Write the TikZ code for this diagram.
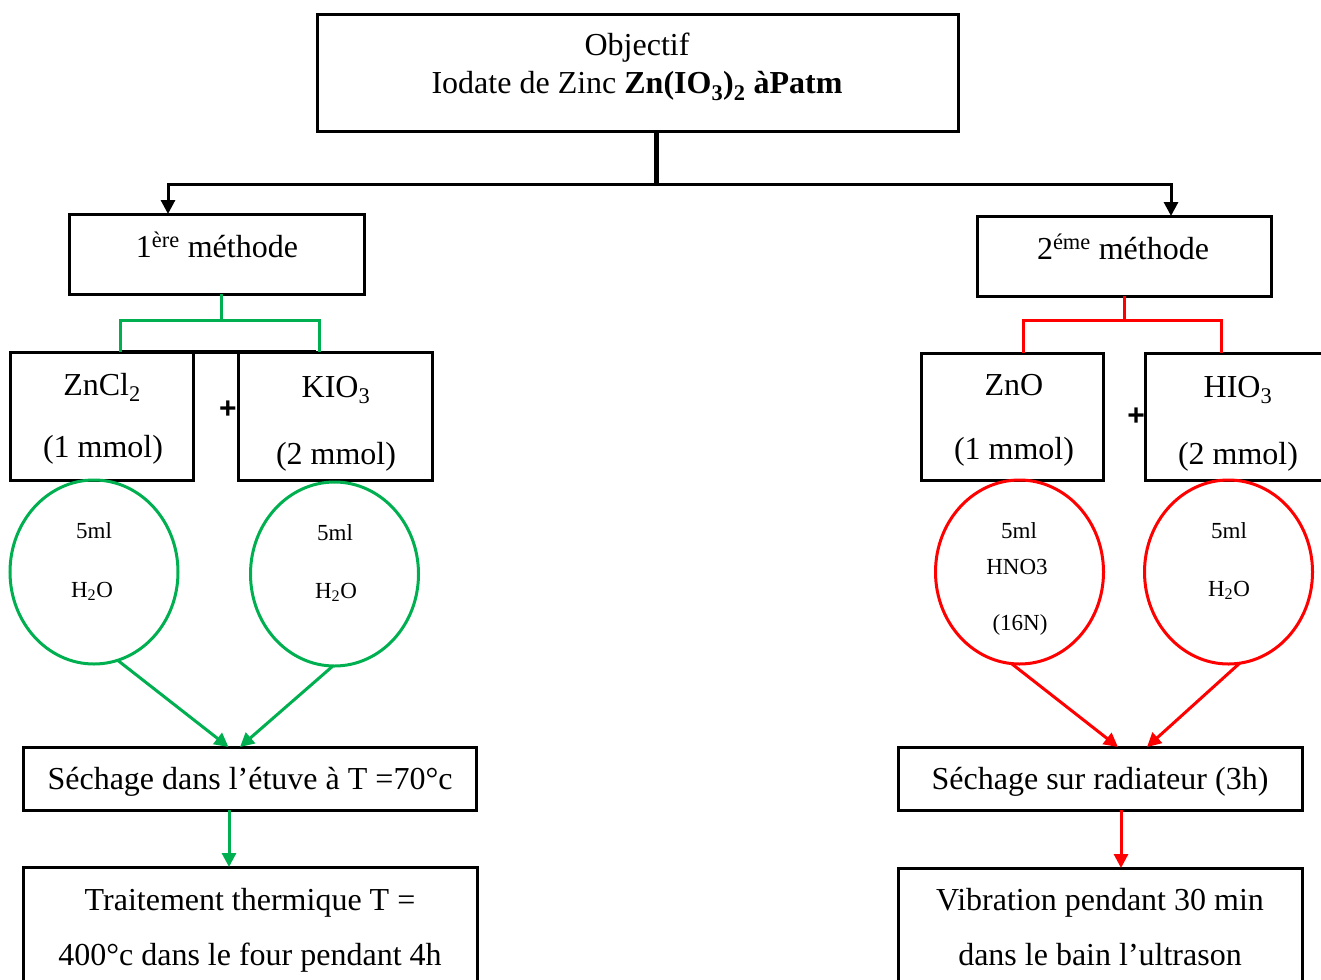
\documentclass[tikz,border=0pt]{standalone}
\usepackage{fontspec}
\setmainfont{Liberation Serif}
\newfontfamily\plusfont{Liberation Sans}
\usetikzlibrary{arrows.meta,shapes.geometric,calc}
\definecolor{gr}{RGB}{0,176,80}
\definecolor{rd}{RGB}{255,0,0}
\tikzset{
 box/.style={draw,line width=3pt,inner sep=0pt,outer sep=0pt},
 txt/.style={inner sep=0pt,anchor=base,font=\fontsize{32}{38}\selectfont},
 small/.style={inner sep=0pt,anchor=base,font=\fontsize{23}{27}\selectfont},
 ring/.style={draw,ellipse,line width=3pt,minimum width=168pt,minimum height=184pt,inner sep=0pt,outer sep=0pt},
 garr/.style={gr,line width=3pt,-{Triangle[length=14pt,width=14pt]}},
 rarr/.style={rd,line width=3pt,-{Triangle[length=14pt,width=14pt]}},
 karr/.style={black,line width=3pt,-{Triangle[length=14pt,width=14pt]}},
 gline/.style={gr,line width=3pt},
 rline/.style={rd,line width=3pt},
 plus/.style={inner sep=0pt,font=\plusfont\bfseries\fontsize{30}{30}\selectfont},
}
\begin{document}
\begin{tikzpicture}[x=1pt,y=-1pt]
\useasboundingbox (0,0) rectangle (1321,979);
\clip (0,0) rectangle (1321,979);
% top
\node[box,minimum width=641pt,minimum height=116pt] (obj) at (637.5,73) {};
\node[txt,align=center] (objt) at (637,94) {Objectif\\Iodate de Zinc \textbf{Zn(IO\textsubscript{3})\textsubscript{2} àPatm}};
\coordinate (hub) at (656,184);
\draw[line width=5pt] (hub |- obj.south) -- (hub);
% method boxes
\node[box,minimum width=295pt,minimum height=80pt] (m1) at (216.5,254) {};
\node[txt] (m1t) at (217,257) {1\textsuperscript{ère} méthode};
\node[box,minimum width=294pt,minimum height=80pt] (m2) at (1124,256) {};
\node[txt] (m2t) at (1123,259) {2\textsuperscript{éme} méthode};
\draw[karr] (hub) -| ([xshift=-48.5pt]m1.north);
\draw[karr] (hub) -| ([xshift=47pt]m2.north);
% reagent boxes left
\node[box,minimum width=183pt,minimum height=128pt] (z1) at (101.5,416) {};
\node[txt] (z1a) at (102,395) {ZnCl\textsubscript{2}};
\node[txt] (z1b) at (103,457) {(1 mmol)};
\node[box,minimum width=194pt,minimum height=128pt] (k1) at (335,416) {};
\node[txt] (k1a) at (336,397) {KIO\textsubscript{3}};
\node[txt] (k1b) at (336,464) {(2 mmol)};
\node[plus] (p1) at (228,410) {+};
\coordinate (gb) at (221,320);
\draw[gline] ([xshift=4.5pt]m1.south) -- (gb);
\draw[gline] ([xshift=18.5pt]z1.north) |- (gb) -| ([xshift=-16pt]k1.north);
\draw[line width=3.5pt] ([xshift=20.5pt]z1.north) -- ([xshift=-19pt]k1.north);
% reagent boxes right
\node[box,minimum width=182pt,minimum height=127pt] (o1) at (1012,416.5) {};
\node[txt] (o1a) at (1014,395) {ZnO};
\node[txt] (o1b) at (1014,459) {(1 mmol)};
\node[box,minimum width=185pt,minimum height=127pt] (h1) at (1237.5,416.5) {};
\node[txt] (h1a) at (1238,397) {HIO\textsubscript{3}};
\node[txt] (h1b) at (1238,464) {(2 mmol)};
\node[plus] (p2) at (1136,417) {+};
\coordinate (rb) at (1124,320);
\draw[rline] (m2.south) -- (rb);
\draw[rline] ([xshift=11pt]o1.north) |- (rb) -| ([xshift=-16.5pt]h1.north);
% circles
\node[ring,gr] (c1) at (94,572) {};
\node[small] (c1a) at (94,538) {5ml};
\node[small] (c1b) at (92,597) {H\textsubscript{2}O};
\node[ring,gr] (c2) at (334.5,574) {};
\node[small] (c2a) at (335,540) {5ml};
\node[small] (c2b) at (336,598) {H\textsubscript{2}O};
\node[ring,rd] (r1) at (1019.5,572) {};
\node[small] (r1a) at (1019,538) {5ml};
\node[small] (r1b) at (1017,574) {HNO3};
\node[small] (r1c) at (1020,630) {(16N)};
\node[ring,rd] (r2) at (1228.5,572) {};
\node[small] (r2a) at (1229,538) {5ml};
\node[small] (r2b) at (1229,596) {H\textsubscript{2}O};
% drying boxes
\node[box,minimum width=453pt,minimum height=63pt] (s1) at (249.5,778.5) {};
\node[txt] (s1t) at (250,789) {Séchage dans l’étuve à T =70°c};
\node[box,minimum width=404pt,minimum height=63pt] (s2) at (1100,778.5) {};
\node[txt] (s2t) at (1100,789) {Séchage sur radiateur (3h)};
\draw[garr] (c1.-75) -- ([xshift=-21pt]s1.north);
\draw[garr] (c2.-91) -- ([xshift=-9.5pt]s1.north);
\draw[rarr] (r1.-95) -- ([xshift=18pt]s2.north);
\draw[rarr] (r2.-83) -- ([xshift=47pt]s2.north);
% final boxes
\node[box,minimum width=454pt,minimum height=140pt] (t1) at (250,937) {};
\node[txt] (t1a) at (250,910) {Traitement thermique T =};
\node[txt] (t1b) at (250,965) {400°c dans le four pendant 4h};
\node[box,minimum width=404pt,minimum height=140pt] (t2) at (1100,938) {};
\node[txt] (t2a) at (1100,910) {Vibration pendant 30 min};
\node[txt] (t2b) at (1100,965) {dans le bain l’ultrason};
\draw[garr] ([xshift=-20.5pt]s1.south) -- ([xshift=-20.5pt]s1.south |- t1.north);
\draw[rarr] ([xshift=21pt]s2.south) -- ([xshift=21pt]s2.south |- t2.north);
\end{tikzpicture}
\end{document}
